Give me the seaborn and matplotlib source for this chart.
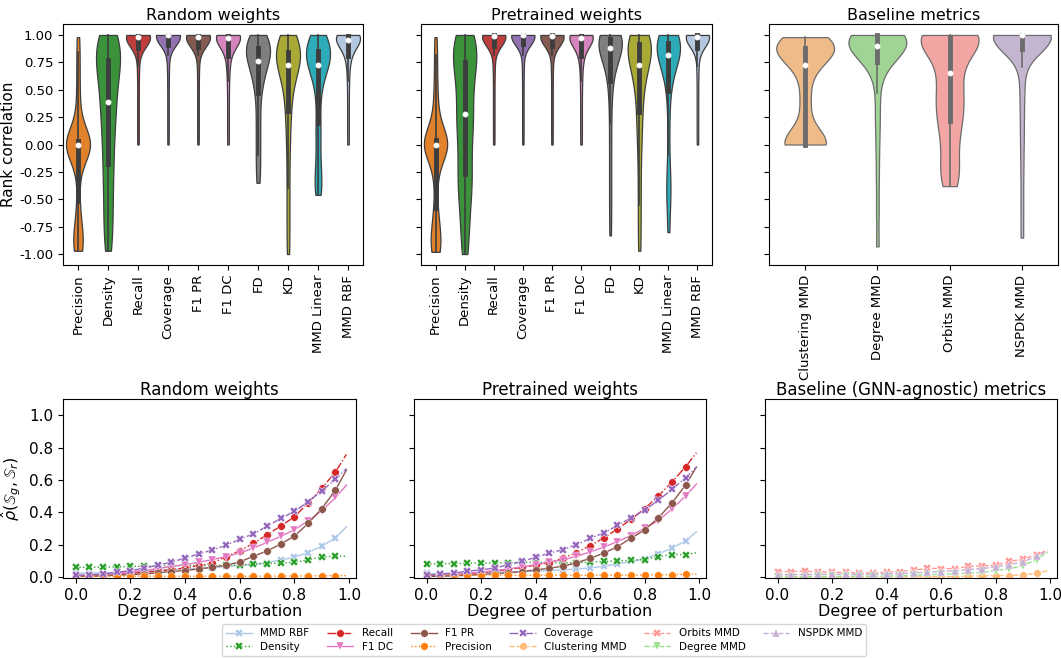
import matplotlib
matplotlib.use("Agg")
import matplotlib.pyplot as plt
import numpy as np
import pandas as pd
import seaborn as sns

# ----------------------------------------------------------------- top row data
GNN_METRICS = ["Precision", "Density", "Recall", "Coverage", "F1 PR", "F1 DC",
               "FD", "KD", "MMD Linear", "MMD RBF"]
GNN_COLORS = ["#ff7f0e", "#2ca02c", "#d62728", "#9467bd", "#8c564b", "#e377c2",
              "#7f7f7f", "#bcbd22", "#17becf", "#aec7e8"]
BASE_METRICS = ["Clustering MMD", "Degree MMD", "Orbits MMD", "NSPDK MMD"]
BASE_COLORS = ["#ffbb78", "#98df8a", "#ff9896", "#c5b0d5"]

# rank-correlation samples (estimated from the violins), random weights
rand_precision = [-0.97, -0.95, -0.93, -0.91, -0.88, -0.85, -0.80, -0.72, -0.62,
                  -0.52, -0.30, -0.18, -0.10, -0.05, -0.02,
                  0, 0, 0, 0, 0, 0, 0, 0, 0, 0, 0, 0,
                  0.03, 0.07, 0.12, 0.20, 0.30, 0.42, 0.55, 0.70, 0.84, 0.98]
rand_density = [-0.97, -0.85, -0.72, -0.60, -0.48, -0.36, -0.25, -0.15, -0.05, 0.05,
                0.14, 0.22, 0.30, 0.36, 0.42, 0.50, 0.57, 0.63, 0.68, 0.72, 0.76,
                0.80, 0.85, 0.89, 0.93, 0.96, 0.98, 1.0]
rand_recall = [0.0, 0.15, 0.30, 0.45, 0.60, 0.72, 0.82, 0.88, 0.91, 0.93, 0.95, 0.96,
               0.97, 0.975, 0.98, 0.98, 0.985, 0.985, 0.99, 0.99, 0.99, 0.995, 0.995,
               1.0, 1.0, 1.0, 1.0, 1.0, 1.0]
rand_coverage = [0.0, 0.15, 0.30, 0.45, 0.60, 0.72, 0.82, 0.90, 0.93, 0.95, 0.97, 0.98,
                 0.99, 0.99, 0.995, 1.0, 1.0, 1.0, 1.0, 1.0, 1.0, 1.0, 1.0, 1.0, 1.0,
                 1.0, 1.0, 1.0, 1.0, 1.0]
rand_f1pr = [0.0, 0.15, 0.30, 0.45, 0.60, 0.72, 0.82, 0.89, 0.92, 0.94, 0.955, 0.965,
             0.97, 0.975, 0.98, 0.98, 0.985, 0.985, 0.99, 0.99, 0.99, 0.995, 0.995,
             1.0, 1.0, 1.0, 1.0, 1.0, 1.0]
rand_f1dc = [0.0, 0.15, 0.30, 0.45, 0.58, 0.68, 0.76, 0.81, 0.85, 0.88, 0.91, 0.93,
             0.95, 0.96, 0.97, 0.98, 0.98, 0.985, 0.99, 0.99, 0.99, 0.995, 0.995,
             1.0, 1.0, 1.0, 1.0, 1.0, 1.0]
rand_fd = [-0.35, -0.22, -0.10, 0.02, 0.14, 0.26, 0.38, 0.50, 0.55, 0.60, 0.65, 0.69,
           0.72, 0.75, 0.77, 0.79, 0.81, 0.83, 0.85, 0.87, 0.88, 0.90, 0.92, 0.94,
           0.96, 0.98, 0.99, 1.0]
rand_kd = [-1.0, -0.80, -0.60, -0.40, -0.20, -0.02, 0.12, 0.24, 0.33, 0.42, 0.50, 0.56,
           0.61, 0.65, 0.69, 0.72, 0.74, 0.76, 0.78, 0.80, 0.81, 0.82, 0.83, 0.84,
           0.86, 0.88, 0.90, 0.92, 0.94, 0.96, 0.98, 1.0]
rand_mmd_lin = [-0.46, -0.42, -0.36, -0.30, -0.22, -0.10, 0.04, 0.12, 0.22, 0.36, 0.48,
                0.57, 0.63, 0.67, 0.70, 0.72, 0.74, 0.76, 0.78, 0.80, 0.82, 0.83, 0.84,
                0.85, 0.87, 0.89, 0.91, 0.93, 0.95, 0.97, 0.99, 1.0]
rand_mmd_rbf = [0.0, 0.15, 0.30, 0.45, 0.58, 0.68, 0.76, 0.80, 0.84, 0.87, 0.89, 0.91,
                0.93, 0.94, 0.95, 0.96, 0.965, 0.97, 0.975, 0.98, 0.985, 0.99, 0.99,
                0.995, 1.0, 1.0, 1.0, 1.0, 1.0, 1.0]

# pretrained weights
pre_precision = [-0.98, -0.96, -0.94, -0.92, -0.89, -0.85, -0.80, -0.73, -0.64,
                 -0.58, -0.36, -0.25, -0.15, -0.07, -0.02,
                 0, 0, 0, 0, 0, 0, 0, 0, 0, 0, 0, 0,
                 0.04, 0.09, 0.15, 0.22, 0.30, 0.40, 0.52, 0.66, 0.82, 0.98]
pre_density = [-1.0, -0.85, -0.70, -0.58, -0.47, -0.38, -0.31, -0.25, -0.15, -0.05,
               0.05, 0.13, 0.20, 0.25, 0.31, 0.40, 0.48, 0.56, 0.63, 0.69, 0.74,
               0.79, 0.84, 0.88, 0.92, 0.95, 0.98, 1.0]
pre_recall = [0.0, 0.15, 0.30, 0.45, 0.60, 0.72, 0.82, 0.90, 0.93, 0.95, 0.965, 0.975,
              0.98, 0.985, 0.99, 0.99, 0.99, 0.995, 0.995, 1.0, 1.0, 1.0, 1.0, 1.0,
              1.0, 1.0, 1.0, 1.0, 1.0]
pre_coverage = [0.0, 0.15, 0.30, 0.45, 0.60, 0.72, 0.82, 0.91, 0.94, 0.96, 0.975, 0.985,
                0.99, 0.99, 0.995, 1.0, 1.0, 1.0, 1.0, 1.0, 1.0, 1.0, 1.0, 1.0, 1.0,
                1.0, 1.0, 1.0, 1.0, 1.0]
pre_f1pr = [0.0, 0.15, 0.30, 0.45, 0.60, 0.72, 0.82, 0.90, 0.93, 0.95, 0.96, 0.97,
            0.98, 0.985, 0.99, 0.99, 0.99, 0.995, 0.995, 1.0, 1.0, 1.0, 1.0, 1.0,
            1.0, 1.0, 1.0, 1.0, 1.0]
pre_f1dc = [0.0, 0.15, 0.30, 0.45, 0.58, 0.68, 0.76, 0.81, 0.85, 0.88, 0.91, 0.93,
            0.95, 0.96, 0.97, 0.98, 0.985, 0.99, 0.99, 0.99, 0.995, 0.995, 1.0,
            1.0, 1.0, 1.0, 1.0, 1.0, 1.0]
pre_fd = [-0.83, -0.60, -0.40, -0.20, 0.0, 0.20, 0.38, 0.52, 0.60, 0.66, 0.72, 0.77,
          0.81, 0.84, 0.86, 0.88, 0.89, 0.90, 0.91, 0.92, 0.93, 0.94, 0.95, 0.96,
          0.97, 0.97, 0.98, 0.98, 0.99, 0.99, 1.0, 1.0]
pre_kd = [-0.97, -0.75, -0.55, -0.35, -0.15, 0.0, 0.12, 0.22, 0.32, 0.40, 0.48, 0.55,
          0.61, 0.66, 0.70, 0.72, 0.74, 0.77, 0.80, 0.83, 0.86, 0.88, 0.90, 0.91,
          0.93, 0.94, 0.95, 0.96, 0.97, 0.98, 0.99, 1.0]
pre_mmd_lin = [-0.80, -0.60, -0.45, -0.38, -0.30, -0.10, 0.15, 0.38, 0.52, 0.60, 0.66,
               0.71, 0.75, 0.78, 0.80, 0.81, 0.83, 0.85, 0.87, 0.88, 0.89, 0.90, 0.91,
               0.92, 0.94, 0.95, 0.96, 0.97, 0.98, 0.99, 1.0, 1.0]
pre_mmd_rbf = [0.0, 0.15, 0.30, 0.45, 0.60, 0.72, 0.82, 0.88, 0.91, 0.93, 0.95, 0.96,
               0.97, 0.975, 0.98, 0.985, 0.985, 0.99, 0.99, 0.995, 0.995, 1.0, 1.0,
               1.0, 1.0, 1.0, 1.0, 1.0, 1.0]

# baseline metrics
base_clustering = [0, 0, 0, 0, 0, 0, 0, 0, 0.10, 0.18, 0.35, 0.45,
                   0.60, 0.70, 0.76, 0.80, 0.82, 0.84, 0.86, 0.87, 0.88, 0.89,
                   0.90, 0.92, 0.94, 0.96, 0.97, 0.98]
base_degree = [-0.93, -0.60, -0.30, -0.05, 0.15, 0.30, 0.47,
               0.62, 0.70, 0.75, 0.78, 0.80, 0.82, 0.84, 0.86, 0.87, 0.88, 0.89,
               0.90, 0.91, 0.92, 0.93, 0.94, 0.95, 0.96, 0.97, 0.98,
               1.0, 1.0, 1.0, 1.0, 1.0, 1.0, 1.0, 1.0, 1.0, 1.0]
base_orbits = [-0.38, -0.30, -0.20, -0.08, 0.05, 0.15, 0.24, 0.30, 0.38, 0.45, 0.52,
               0.60, 0.70, 0.78, 0.84, 0.90, 0.95, 0.98, 1.0, 1.0, 1.0, 1.0, 1.0, 1.0]
base_nspdk = [-0.85, -0.55, -0.25, 0.0, 0.20, 0.40, 0.55, 0.71,
              0.86, 0.90, 0.92, 0.94, 0.96, 0.97, 0.98, 0.99,
              1.0, 1.0, 1.0, 1.0, 1.0, 1.0, 1.0, 1.0, 1.0, 1.0, 1.0, 1.0, 1.0,
              1.0, 1.0, 1.0, 1.0, 1.0]

RANDOM_SAMPLES = [rand_precision, rand_density, rand_recall, rand_coverage, rand_f1pr,
                  rand_f1dc, rand_fd, rand_kd, rand_mmd_lin, rand_mmd_rbf]
PRE_SAMPLES = [pre_precision, pre_density, pre_recall, pre_coverage, pre_f1pr,
               pre_f1dc, pre_fd, pre_kd, pre_mmd_lin, pre_mmd_rbf]
BASE_SAMPLES = [base_clustering, base_degree, base_orbits, base_nspdk]

# -------------------------------------------------------------- bottom row data
DEGREES = [0.0, 0.05, 0.1, 0.15, 0.2, 0.25, 0.3, 0.35, 0.4, 0.45, 0.5,
           0.55, 0.6, 0.65, 0.7, 0.75, 0.8, 0.85, 0.9, 0.95, 0.99]

mmd_rbf_r = [0.025, 0.025, 0.027, 0.031, 0.035, 0.039, 0.043, 0.047, 0.051, 0.055, 0.059,
             0.066, 0.072, 0.080, 0.090, 0.107, 0.123, 0.152, 0.193, 0.242, 0.311]
density_r = [0.061, 0.061, 0.063, 0.063, 0.066, 0.068, 0.068, 0.070, 0.072, 0.072, 0.072,
             0.074, 0.076, 0.080, 0.084, 0.088, 0.092, 0.107, 0.125, 0.129, 0.129]
recall_r = [0.008, 0.008, 0.010, 0.016, 0.023, 0.031, 0.037, 0.047, 0.057, 0.072, 0.086,
            0.127, 0.164, 0.209, 0.262, 0.316, 0.373, 0.459, 0.549, 0.650, 0.758]
f1dc_r = [0.006, 0.008, 0.014, 0.023, 0.031, 0.041, 0.053, 0.066, 0.078, 0.092, 0.109,
          0.127, 0.150, 0.180, 0.215, 0.252, 0.293, 0.348, 0.410, 0.492, 0.568]
f1pr_r = [0.004, 0.006, 0.008, 0.012, 0.016, 0.020, 0.027, 0.035, 0.041, 0.051, 0.061,
          0.074, 0.094, 0.129, 0.162, 0.205, 0.254, 0.332, 0.424, 0.537, 0.662]
precision_r = [0.006, 0.006, 0.006, 0.006, 0.006, 0.006, 0.006, 0.006, 0.006, 0.006, 0.006,
               0.006, 0.006, 0.006, 0.006, 0.007, 0.008, 0.008, 0.009, 0.010, 0.009]
coverage_r = [0.014, 0.014, 0.020, 0.029, 0.041, 0.055, 0.074, 0.092, 0.119, 0.143, 0.168,
              0.197, 0.234, 0.268, 0.314, 0.363, 0.406, 0.465, 0.533, 0.605, 0.670]

mmd_rbf_p = [0.023, 0.023, 0.025, 0.027, 0.029, 0.031, 0.033, 0.035, 0.037, 0.041, 0.045,
             0.051, 0.057, 0.068, 0.082, 0.097, 0.113, 0.144, 0.179, 0.224, 0.281]
density_p = [0.082, 0.084, 0.084, 0.086, 0.088, 0.088, 0.090, 0.092, 0.092, 0.090, 0.088,
             0.090, 0.092, 0.097, 0.100, 0.105, 0.109, 0.127, 0.140, 0.140, 0.150]
recall_p = [0.008, 0.010, 0.014, 0.020, 0.029, 0.037, 0.047, 0.060, 0.074, 0.090, 0.117,
            0.152, 0.195, 0.242, 0.298, 0.357, 0.423, 0.501, 0.587, 0.682, 0.768]
f1dc_p = [0.006, 0.008, 0.014, 0.023, 0.031, 0.041, 0.051, 0.064, 0.078, 0.094, 0.107,
          0.129, 0.156, 0.185, 0.220, 0.257, 0.302, 0.349, 0.421, 0.501, 0.575]
f1pr_p = [0.004, 0.006, 0.008, 0.012, 0.016, 0.023, 0.027, 0.035, 0.045, 0.055, 0.068,
          0.088, 0.117, 0.148, 0.189, 0.240, 0.292, 0.366, 0.458, 0.569, 0.680]
precision_p = [0.014, 0.014, 0.013, 0.013, 0.013, 0.013, 0.012, 0.012, 0.012, 0.012, 0.012,
               0.012, 0.012, 0.012, 0.013, 0.013, 0.014, 0.015, 0.016, 0.018, 0.018]
coverage_p = [0.014, 0.018, 0.025, 0.037, 0.045, 0.057, 0.076, 0.097, 0.123, 0.148, 0.170,
              0.201, 0.240, 0.273, 0.320, 0.366, 0.415, 0.474, 0.542, 0.614, 0.680]

orbits_b = [0.033, 0.035, 0.037, 0.033, 0.031, 0.029, 0.027, 0.027, 0.031, 0.035, 0.043,
            0.055, 0.053, 0.053, 0.066, 0.070, 0.074, 0.097, 0.111, 0.140, 0.166]
nspdk_b = [0.014, 0.016, 0.016, 0.018, 0.018, 0.018, 0.018, 0.020, 0.020, 0.022, 0.027,
           0.029, 0.035, 0.039, 0.047, 0.053, 0.064, 0.078, 0.094, 0.129, 0.160]
degree_b = [0.004, 0.004, 0.004, 0.005, 0.005, 0.006, 0.006, 0.006, 0.007, 0.008, 0.012,
            0.014, 0.018, 0.021, 0.025, 0.029, 0.041, 0.051, 0.072, 0.109, 0.154]
clustering_b = [0.002, 0.002, 0.002, 0.002, 0.002, 0.002, 0.002, 0.002, 0.002, 0.002, 0.003,
                0.003, 0.003, 0.004, 0.006, 0.008, 0.010, 0.010, 0.016, 0.023, 0.041]

# (colour, linestyle, marker)
GNN_LINE_STYLE = {
    "MMD RBF": ("#aec7e8", "-", "X"),
    "Density": ("#2ca02c", ":", "X"),
    "Recall": ("#d62728", "-.", "o"),
    "F1 DC": ("#e377c2", "-", "v"),
    "F1 PR": ("#8c564b", "-", "o"),
    "Precision": ("#ff7f0e", ":", "o"),
    "Coverage": ("#9467bd", "-.", "X"),
}
BASE_LINE_STYLE = {
    "Clustering MMD": ("#ffbb78", "--", "o"),
    "Orbits MMD": ("#ff9896", "--", "X"),
    "Degree MMD": ("#98df8a", "--", "v"),
    "NSPDK MMD": ("#c5b0d5", "--", "^"),
}
RANDOM_LINES = {"MMD RBF": mmd_rbf_r, "Density": density_r, "Recall": recall_r,
                "F1 DC": f1dc_r, "F1 PR": f1pr_r, "Precision": precision_r,
                "Coverage": coverage_r}
PRE_LINES = {"MMD RBF": mmd_rbf_p, "Density": density_p, "Recall": recall_p,
             "F1 DC": f1dc_p, "F1 PR": f1pr_p, "Precision": precision_p,
             "Coverage": coverage_p}
BASE_LINES = {"Clustering MMD": clustering_b, "Orbits MMD": orbits_b,
              "Degree MMD": degree_b, "NSPDK MMD": nspdk_b}

LEGEND_ORDER = ["MMD RBF", "Density", "Recall", "F1 DC", "F1 PR", "Precision",
                "Coverage", "Clustering MMD", "Orbits MMD", "Degree MMD", "NSPDK MMD"]

# ------------------------------------------------------------------ figure
plt.rcParams["axes.unicode_minus"] = False
W, H = 1061, 658
fig = plt.figure(figsize=(W / 100, H / 100), dpi=100)


def ax_px(x0, y0, x1, y1):
    return fig.add_axes([x0 / W, 1 - y1 / H, (x1 - x0) / W, (y1 - y0) / H])


top_axes = [ax_px(63, 24, 363, 265), ax_px(421, 24, 712, 265), ax_px(769, 24, 1058, 265)]
bot_axes = [ax_px(63, 399, 356, 578), ax_px(414, 399, 706, 578), ax_px(765, 399, 1057, 578)]


def long_frame(names, samples):
    rows = [(n, v) for n, s in zip(names, samples) for v in s]
    return pd.DataFrame(rows, columns=["metric", "value"])


top_specs = [
    ("Random weights", GNN_METRICS, GNN_COLORS, RANDOM_SAMPLES),
    ("Pretrained weights", GNN_METRICS, GNN_COLORS, PRE_SAMPLES),
    ("Baseline metrics", BASE_METRICS, BASE_COLORS, BASE_SAMPLES),
]
for i, (ax, (title, names, colors, samples)) in enumerate(zip(top_axes, top_specs)):
    df = long_frame(names, samples)
    sns.violinplot(data=df, x="metric", y="value", hue="metric", order=names,
                   hue_order=names, palette=dict(zip(names, colors)), cut=0,
                   density_norm="width", inner="box", bw_adjust=0.6, linewidth=0.9,
                   inner_kws=dict(box_width=3.5, whis_width=1.2, marker="o",
                                  markersize=3.5),
                   legend=False, ax=ax)
    ax.set_ylim(-1.1, 1.1)
    ax.set_yticks([-1.0, -0.75, -0.5, -0.25, 0.0, 0.25, 0.5, 0.75, 1.0])
    ax.set_title(title, fontsize=11.5, pad=3)
    ax.set_xlabel("")
    ax.tick_params(axis="x", labelrotation=90, labelsize=9.5)
    ax.tick_params(axis="y", labelsize=9.5)
    if i == 0:
        ax.set_ylabel("Rank correlation", fontsize=11, labelpad=2)
    else:
        ax.set_ylabel("")
        ax.tick_params(axis="y", labelleft=False)

bot_specs = [
    ("Random weights", RANDOM_LINES, GNN_LINE_STYLE),
    ("Pretrained weights", PRE_LINES, GNN_LINE_STYLE),
    ("Baseline (GNN-agnostic) metrics", BASE_LINES, BASE_LINE_STYLE),
]
handles = {}
marker_idx = list(range(len(DEGREES) - 1))
for i, (ax, (title, lines, styles)) in enumerate(zip(bot_axes, bot_specs)):
    for name, vals in lines.items():
        color, ls, mk = styles[name]
        sns.lineplot(x=DEGREES, y=vals, ax=ax, color=color, linestyle=ls, marker=mk,
                     markersize=5.5, markeredgewidth=0.3, linewidth=1.0,
                     markevery=marker_idx, label=name, legend=False)
        handles[name] = ax.get_lines()[-1]
    ax.set_xlim(-0.046, 1.025)
    ax.set_ylim(-0.005, 1.1)
    ax.set_xticks([0.0, 0.2, 0.4, 0.6, 0.8, 1.0])
    ax.set_yticks([0.0, 0.2, 0.4, 0.6, 0.8, 1.0])
    ax.set_title(title, fontsize=12, pad=3)
    ax.set_xlabel("Degree of perturbation", fontsize=11.5, labelpad=1)
    ax.tick_params(labelsize=11)
    if i == 0:
        ax.set_ylabel(r"$\hat{\rho}(\mathbb{S}_g, \mathbb{S}_r)$", fontsize=11.5)
    else:
        ax.set_ylabel("")
        ax.tick_params(axis="y", labelleft=False)

fig.legend([handles[n] for n in LEGEND_ORDER], LEGEND_ORDER, loc="center",
           bbox_to_anchor=(544 / W, 1 - 640 / H), ncol=6, fontsize=7.5,
           frameon=True, handlelength=2.5, columnspacing=1.7, labelspacing=0.3,
           borderpad=0.4)

fig.savefig("out.png", dpi=100)
